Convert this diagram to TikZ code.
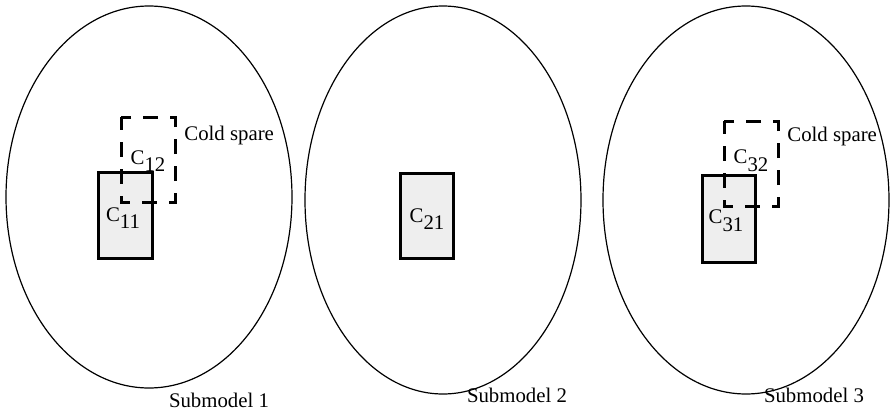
\documentclass[tikz,border=0pt]{standalone}
\usepackage{fontspec}
\setmainfont{Liberation Serif}
\newcommand{\comp}[1]{C\lower3.8pt\hbox{#1}}

\tikzset{
  submodel/.style={line width=0.6pt},
  unit/.style={line width=1.5pt,fill=gray!13},
  spare/.style={line width=1.5pt,dash pattern=on 7.5pt off 6pt,dash phase=1pt},
  lbl/.style={inner sep=0pt,font=\fontsize{10.4}{12}\selectfont}
}

\begin{document}
\begin{tikzpicture}[x=0.5pt,y=-0.5pt]
\useasboundingbox (0,0) rectangle (891,413);
% the three submodels
\foreach \cx/\cy/\rx/\ry in {149/197/71.5pt/95.5pt,443/200/69pt/97pt,746/200/71.5pt/97pt}
  \draw[submodel] (\cx,\cy) ellipse[x radius=\rx,y radius=\ry];

% submodel 1: unit with a cold spare
\draw[unit] (98,172) rectangle (152,258);
\draw[spare] (121,117) rectangle (175,202);
\node[lbl] (c11) at (123,218) {\comp{11}};
\node[lbl] (c12) at (148,161) {\comp{12}};
\node[lbl,anchor=base west] (cold1) at (184,140) {Cold spare};
\node[lbl] (sub1) at (219,400) {Submodel 1};

% submodel 2: single unit
\draw[unit] (400,173) rectangle (453,258);
\node[lbl] (c21) at (427,219) {\comp{21}};
\node[lbl] (sub2) at (517,395) {Submodel 2};

% submodel 3: unit with a cold spare
\draw[unit] (702,175) rectangle (755,262);
\draw[spare] (724,121) rectangle (778,206);
\node[lbl] (c31) at (726,221) {\comp{31}};
\node[lbl] (c32) at (751,161) {\comp{32}};
\node[lbl,anchor=base west] (cold3) at (787,141) {Cold spare};
\node[lbl] (sub3) at (814,395) {Submodel 3};
\end{tikzpicture}
\end{document}
